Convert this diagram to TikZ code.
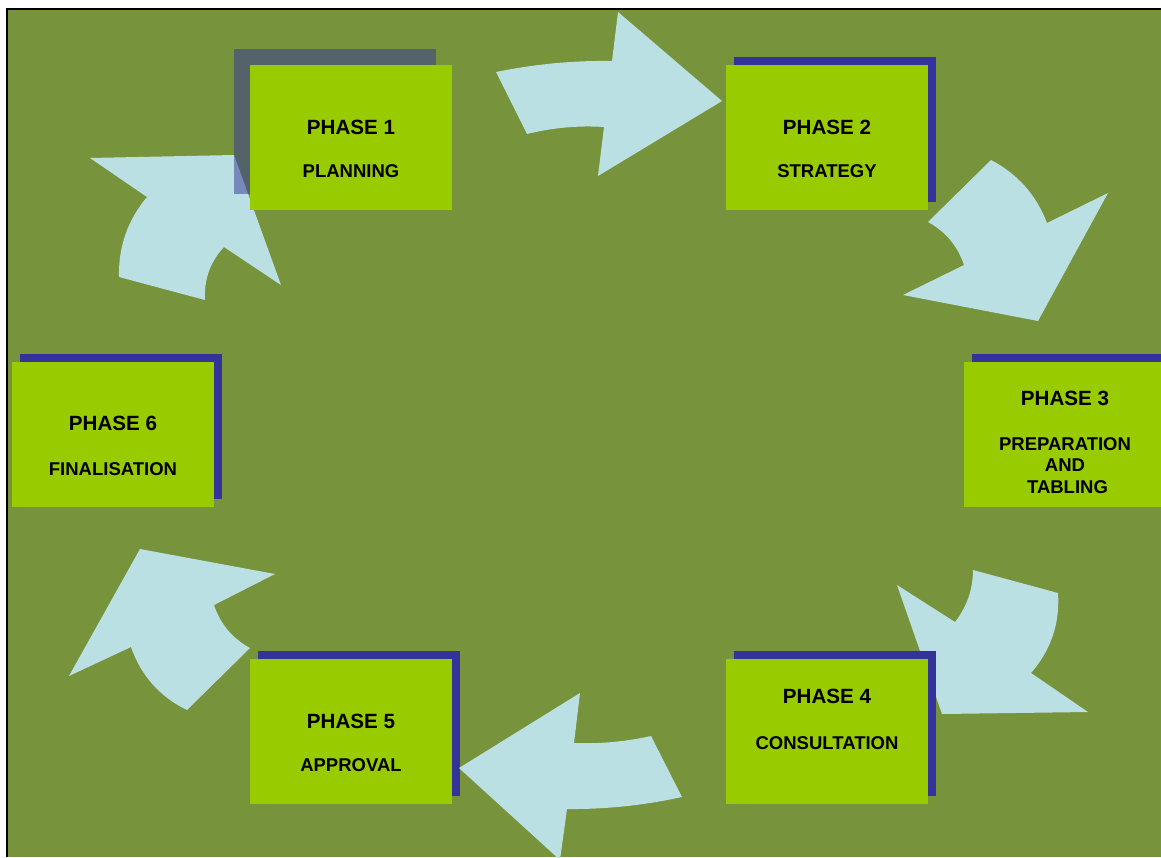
\documentclass[tikz,border=0pt]{standalone}
\usepackage{fontspec}
\setmainfont{Liberation Sans}
\definecolor{bg}{HTML}{77933C}
\definecolor{boxg}{HTML}{99CC00}
\definecolor{shad}{HTML}{333399}
\definecolor{arr}{HTML}{BBE0E3}
\begin{document}
\begin{tikzpicture}[x=1pt,y=-1pt,
  box/.style={fill=boxg, minimum width=202pt, minimum height=145pt, inner sep=0pt, draw=none},
  shbox/.style={fill=shad, minimum width=202pt, minimum height=145pt, inner sep=0pt, draw=none},
  ttl/.style={font=\bfseries\fontsize{20.6}{24}\selectfont, anchor=base, inner sep=0pt},
  sub/.style={font=\bfseries\fontsize{18.5}{21.5}\selectfont, anchor=base, inner sep=0pt},
  blockarrow/.style={fill=arr, draw=none}]
\useasboundingbox (0,0) rectangle (1161,857);
\fill[white] (0,0) rectangle (1161,857);
\fill[bg] (8,10) rectangle (1161,857);
\draw[black, line width=2pt] (7,857) -- (7,9) -- (1161,9);

% curved block arrows
\fill[blockarrow] (496,72) .. controls (534.7,64.1) and (573.3,60.4) .. (612,61) -- (618,12) -- (722,101) -- (598,176) -- (604,127) .. controls (578.3,125.3) and (552.7,127.7) .. (527,134) -- cycle;
\fill[blockarrow] (991,160) .. controls (1017.7,174) and (1036.3,195) .. (1047,223) -- (1108,193) -- (1038,321) -- (903,295) -- (964,265) .. controls (957.6,245.9) and (945.6,231.6) .. (928,222) -- cycle;
\fill[blockarrow] (1058,593) .. controls (1060,623.4) and (1051,650.1) .. (1031,673) -- (1088,712) -- (942,714) -- (897,585) -- (955,622) .. controls (966.9,606.7) and (972.9,589.4) .. (973,570) -- cycle;
\fill[blockarrow] (187,710) .. controls (159.7,696.7) and (141,675.7) .. (131,647) -- (69,676) -- (140,549) -- (275,574) -- (214,605) .. controls (220.4,624.1) and (232.4,638.4) .. (250,648) -- cycle;
\fill[blockarrow] (119,277) .. controls (118.3,246.8) and (127.6,220.1) .. (147,197) -- (90,158) -- (234,155) -- (281,285) -- (224,247) .. controls (210.1,262) and (203.8,279.7) .. (205,300) -- cycle;

% phase boxes 2-6 with shadows
\node[shbox] (s2) at (835,129.5) {};
\node[box] (p2) at (827,137) {};
\node[shbox] (s3) at (1073,426.5) {};
\node[box] (p3) at (1065,434.5) {};
\node[shbox] (s4) at (835,723) {};
\node[box] (p4) at (827,731) {};
\node[shbox] (s5) at (359,723) {};
\node[box] (p5) at (351,731) {};
\node[shbox] (s6) at (121,426.5) {};
\node[box] (p6) at (113,434.5) {};

% phase 1 with translucent shadow
\node[shbox, fill opacity=0.5] (s1) at (335,121) {};
\node[box] (p1) at (351,137.5) {};

% arrow from phase 4 to phase 5 (above phase 5 shadow)
\fill[blockarrow] (682,797) .. controls (643.7,805.4) and (605.3,809.4) .. (567,809) -- (560,860) -- (459,768) -- (580,693) -- (574,743) .. controls (599.7,744) and (625.3,741.7) .. (651,736) -- cycle;

% texts
\node[ttl] (t1) at (351,134) {PHASE 1};
\node[sub] (u1) at (351,177.7) {PLANNING};
\node[ttl] (t2) at (827,134) {PHASE 2};
\node[sub] (u2) at (827,177.7) {STRATEGY};
\node[ttl] (t3) at (1065,405.7) {PHASE 3};
\node[sub] (u3a) at (1065,450) {PREPARATION};
\node[sub] (u3b) at (1065,471.5) {AND};
\node[sub] (u3c) at (1067.5,493) {TABLING};
\node[ttl] (t4) at (827,703) {PHASE 4};
\node[sub] (u4) at (827,749) {CONSULTATION};
\node[ttl] (t5) at (351,728) {PHASE 5};
\node[sub] (u5) at (351,771.7) {APPROVAL};
\node[ttl] (t6) at (113,430.7) {PHASE 6};
\node[sub] (u6) at (113,475) {FINALISATION};
\end{tikzpicture}
\end{document}
